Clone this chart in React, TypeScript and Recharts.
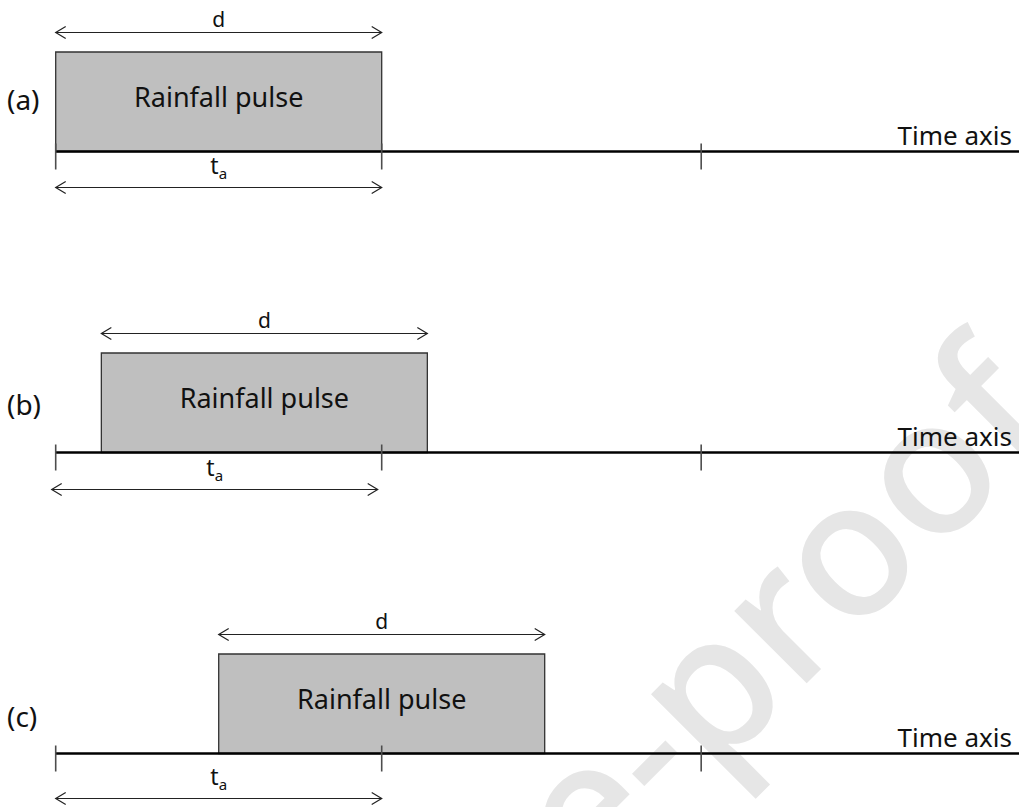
import React from 'react';
import { ComposedChart, XAxis, YAxis, ReferenceArea, ReferenceLine } from 'recharts';

// Time is measured in units of t_a, pulse height in arbitrary intensity units
const panelLabels = ['(a)', '(b)', '(c)'];
const pulseStarts = [0, 0.14, 0.5];
const pulseDuration = 1.0; // d
const timeToPeak = 1.0; // t_a
const pulseHeight = 1;
const axisTicks = [0, 1, 1.98];

const FONT = '"Noto Sans", "Open Sans", sans-serif';
const WIDTH = 1019;
const HEIGHT = 807;
const PANEL_H = 301;
const AXIS_Y = 151.5;
const ORIGIN_X = 55.7;
const PX_PER_T = 326;
const PX_PER_Y = 99.5;

const X_DOMAIN = [-ORIGIN_X / PX_PER_T, (WIDTH - ORIGIN_X) / PX_PER_T];
const Y_DOMAIN = [-(PANEL_H - AXIS_Y) / PX_PER_Y, AXIS_Y / PX_PER_Y];

// small per-panel nudges (pixels)
const letterLift = [52, 48, 37];
const taDrop = [36, 37, 45];
const taShift = [0, -4, 0];

// anchor of the diagonal stamp behind the panels
const STAMP_X = 1062;
const STAMP_Y = 428;

type Seg = { x1: number; y1: number; x2: number; y2: number };

const DoubleArrow = ({ x1, y1, x2, dx = 0, dy = 0, gap, label, sub }: Seg & { dx?: number; dy?: number; gap: number; label: string; sub?: string }) => {
  const y = y1 + dy;
  const a = x1 + dx;
  const b = x2 + dx;
  return (
    <g>
      <line x1={a} y1={y} x2={b} y2={y} stroke="#222" strokeWidth={1.2} />
      <polyline points={`${a + 10},${y - 6} ${a},${y} ${a + 10},${y + 6}`} fill="none" stroke="#222" strokeWidth={1.2} />
      <polyline points={`${b - 10},${y - 6} ${b},${y} ${b - 10},${y + 6}`} fill="none" stroke="#222" strokeWidth={1.2} />
      <text x={(a + b) / 2} y={y - gap} textAnchor="middle" fontFamily={FONT} fontSize={sub ? 23 : 21} fill="#111">
        {label}
        {sub && (
          <tspan fontSize={15} dy={5}>
            {sub}
          </tspan>
        )}
      </text>
    </g>
  );
};

const TimeAxis = ({ x1, y1, x2, letter, lift }: Seg & { letter: string; lift: number }) => (
  <g>
    <line x1={x1} y1={y1} x2={x2} y2={y1} stroke="#000" strokeWidth={2.6} />
    <text x={WIDTH - 7} y={y1 - 7} textAnchor="end" fontFamily={FONT} fontSize={26} fill="#111">
      Time axis
    </text>
    <text x={7} y={y1 - lift + 10} fontFamily={FONT} fontSize={28} fill="#111">
      {letter}
    </text>
  </g>
);

const Tick = ({ x1, y1 }: Seg) => (
  <line x1={x1} y1={y1 - 8} x2={x1} y2={y1 + 18} stroke="#4d4d4d" strokeWidth={1.6} />
);

const PulseLabel = ({ viewBox }: any) => {
  if (!viewBox) return null;
  const { x, y, width, height } = viewBox;
  return (
    <text x={x + width / 2} y={y + height / 2 + 5} textAnchor="middle" fontFamily={FONT} fontSize={27} fill="#111">
      Rainfall pulse
    </text>
  );
};

const Panel = ({ index }: { index: number }) => {
  const start = pulseStarts[index];
  const end = start + pulseDuration;
  const tickData = axisTicks.map((t) => ({ t, v: 0 }));
  return (
    <ComposedChart
      width={WIDTH}
      height={PANEL_H}
      data={tickData}
      margin={{ top: 0, right: 0, bottom: 0, left: 0 }}
      style={{ display: 'block' }}
    >
      <XAxis type="number" dataKey="t" domain={X_DOMAIN} allowDataOverflow hide />
      <YAxis type="number" dataKey="v" domain={Y_DOMAIN} allowDataOverflow hide />
      <ReferenceLine
        segment={[{ x: 0, y: 0 }, { x: X_DOMAIN[1], y: 0 }]}
        ifOverflow="visible"
        shape={(p: any) => <TimeAxis {...p} letter={panelLabels[index]} lift={letterLift[index]} />}
      />
      {axisTicks.map((t) => (
        <ReferenceLine
          key={`tick-${t}`}
          segment={[{ x: t, y: 0 }, { x: t, y: 0 }]}
          ifOverflow="visible"
          shape={(p: any) => <Tick {...p} />}
        />
      ))}
      <ReferenceArea
        x1={start}
        x2={end}
        y1={0}
        y2={pulseHeight}
        fill="#bfbfbf"
        fillOpacity={1}
        stroke="#333"
        strokeWidth={1.3}
        ifOverflow="visible"
        label={(p: any) => <PulseLabel viewBox={p.viewBox} />}
      />
      <ReferenceLine
        segment={[{ x: start, y: pulseHeight }, { x: end, y: pulseHeight }]}
        ifOverflow="visible"
        shape={(p: any) => <DoubleArrow {...p} dy={-19.5} gap={6} label="d" />}
      />
      <ReferenceLine
        segment={[{ x: 0, y: 0 }, { x: timeToPeak, y: 0 }]}
        ifOverflow="visible"
        shape={(p: any) => (
          <DoubleArrow {...p} dx={taShift[index]} dy={taDrop[index]} gap={14} label="t" sub="a" />
        )}
      />
    </ComposedChart>
  );
};

export default function App() {
  return (
    <div
      style={{
        position: 'absolute',
        left: 0,
        top: 0,
        width: WIDTH,
        height: HEIGHT,
        overflow: 'hidden',
        background: '#fff',
      }}
    >
      <svg width={WIDTH} height={HEIGHT} style={{ position: 'absolute', left: 0, top: 0 }}>
        <text
          x={STAMP_X}
          y={STAMP_Y}
          transform={`rotate(-45 ${STAMP_X} ${STAMP_Y})`}
          textAnchor="end"
          fontFamily={FONT}
          fontSize={190}
          fontWeight={500}
          fill="#e6e6e6"
        >
          Journal Pre-proof
        </text>
      </svg>
      <div style={{ position: 'relative' }}>
        {panelLabels.map((_, i) => (
          <Panel key={i} index={i} />
        ))}
      </div>
    </div>
  );
}
